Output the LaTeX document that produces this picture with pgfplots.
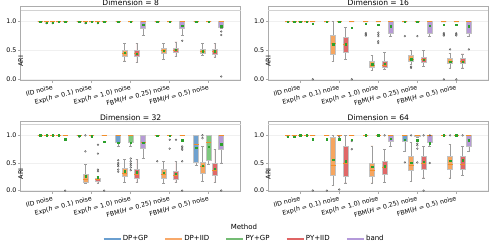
\documentclass[border=0pt]{standalone}
\usepackage{fontspec}
\setmainfont{DejaVu Sans}
\usepackage{pgfplots}
\pgfplotsset{compat=1.18}
\usepgfplotslibrary{statistics}
\definecolor{cB}{HTML}{6FA1CF}
\definecolor{cO}{HTML}{F6A660}
\definecolor{cG}{HTML}{7EC87E}
\definecolor{cR}{HTML}{E06868}
\definecolor{cP}{HTML}{B69AD6}
\definecolor{lB}{HTML}{6A9FD0}
\definecolor{lO}{HTML}{F8A96A}
\definecolor{lG}{HTML}{74BC74}
\definecolor{lR}{HTML}{E06464}
\definecolor{lP}{HTML}{B49ADA}
\definecolor{boxedge}{HTML}{C2C2C2}
\definecolor{whisk}{HTML}{9C9C9C}
\definecolor{medc}{HTML}{F28E2B}
\definecolor{meanc}{HTML}{2CA02C}
\pgfplotsset{
  bxs/.style={forget plot, draw=boxedge, line width=0.7pt, mark=none,
    boxplot/draw direction=y,
    boxplot/box extend=0.13, boxplot/whisker extend=0.07,
    boxplot/every median/.style={draw=medc, line width=0.8pt},
    boxplot/every whisker/.style={draw=whisk, line width=0.6pt}},
  meanst/.style={forget plot, only marks, mark=square*, mark size=0.7pt, color=meanc},
  outst/.style={forget plot, only marks, mark=o, mark size=0.9pt, draw=black!70, line width=0.35pt},
  myax/.style={scale only axis, width=220pt, anchor=south west,
    xmin=-0.82, xmax=4.82, ymin=-0.02, ymax=1.26,
    xtick={0,1,2,3,4},
    xticklabels={{IID noise},{Exp(\textit{h} = 0.1) noise},{Exp(\textit{h} = 1.0) noise},{FBM(\textit{H} = 0.25) noise},{FBM(\textit{H} = 0.5) noise}},
    xticklabel style={rotate=15, anchor=north east, font=\fontsize{6.3}{7}\selectfont, inner sep=1pt},
    ytick={0,0.5,1},
    /pgf/number format/assume math mode=true,
    yticklabel={\pgfmathprintnumber[fixed,fixed zerofill,precision=1]{\tick}},
    yticklabel style={font=\fontsize{6.3}{7}\selectfont, inner sep=1.5pt},
    ymajorgrids, grid style={gray!12, line width=0.4pt},
    axis line style={gray!65, line width=0.6pt},
    tick style={gray!65, line width=0.5pt}, tick align=outside, major tick length=2.5pt,
    xtick pos=lower, ytick pos=left,
    ylabel={ARI},
    ylabel style={at={(axis description cs:0,0.5)}, anchor=center, xshift=-17.5pt, font=\fontsize{6.5}{7}\selectfont},
    clip=false,
  }
}
\newcommand{\bx}[7]{\addplot[bxs, fill=#2, boxplot prepared={draw position=#1, lower whisker=#3, lower quartile=#4, median=#5, upper quartile=#6, upper whisker=#7}] coordinates {};}
\newcommand{\one}[2]{\bx{#1}{#2}{1}{1}{1}{1}{1}}
\newcommand{\topline}{\addplot[forget plot, gray!35, line width=0.5pt] coordinates {(-0.82,1.2) (4.82,1.2)};}
\newcommand{\ttl}[1]{\node[anchor=base, inner sep=0pt, font=\fontsize{7.6}{9}\selectfont] at ([yshift=1pt]rel axis cs:0.5,1) {#1};}
\begin{document}
\begin{tikzpicture}
\useasboundingbox (0,0) rectangle (489pt,247pt);
% ---------------- Dimension = 8
\begin{axis}[myax, at={(20.7pt,166.5pt)}, height=73.8pt]
\topline
\one{-0.32}{cB}\one{-0.16}{cO}\one{0}{cG}\one{0.16}{cR}\one{0.32}{cP}
\one{0.68}{cB}\one{0.84}{cO}\one{1}{cG}\one{1.16}{cR}\one{1.32}{cP}
\one{1.68}{cB}\bx{1.84}{cO}{0.32}{0.40}{0.45}{0.50}{0.62}\one{2}{cG}\bx{2.16}{cR}{0.29}{0.40}{0.45}{0.50}{0.62}\bx{2.32}{cP}{0.76}{0.88}{1}{1}{1}
\one{2.68}{cB}\bx{2.84}{cO}{0.34}{0.45}{0.50}{0.54}{0.62}\one{3}{cG}\bx{3.16}{cR}{0.40}{0.46}{0.51}{0.54}{0.65}\bx{3.32}{cP}{0.76}{0.88}{1}{1}{1}
\one{3.68}{cB}\bx{3.84}{cO}{0.42}{0.45}{0.49}{0.52}{0.62}\one{4}{cG}\bx{4.16}{cR}{0.39}{0.43}{0.49}{0.52}{0.62}\bx{4.32}{cP}{0.88}{0.91}{1}{1}{1}
\addplot[outst] coordinates {(-0.16,0.975)(0,0.975)(0.84,0.975)(1.16,0.975)(3.32,0.67)(4.32,0.83)(4.32,0.77)(4.32,0.05)};
\addplot[meanst] coordinates {(-0.32,1)(-0.16,0.985)(0,0.985)(0.16,1)(0.32,1)(0.68,1)(0.84,0.985)(1,1)(1.16,0.985)(1.32,1)(1.68,1)(1.84,0.46)(2,1)(2.16,0.45)(2.32,0.95)(2.68,1)(2.84,0.50)(3,1)(3.16,0.51)(3.32,0.93)(3.68,1)(3.84,0.49)(4,1)(4.16,0.49)(4.32,0.92)};
\ttl{Dimension = 8}
\end{axis}
% ---------------- Dimension = 16
\begin{axis}[myax, at={(268.3pt,166.5pt)}, height=73.8pt]
\topline
\one{-0.32}{cB}\one{-0.16}{cO}\one{0}{cG}\one{0.16}{cR}\one{0.32}{cP}
\one{0.68}{cB}\bx{0.84}{cO}{0.31}{0.44}{0.62}{0.77}{1}\one{1}{cG}\bx{1.16}{cR}{0.34}{0.47}{0.60}{0.73}{0.90}\one{1.32}{cP}
\one{1.68}{cB}\bx{1.84}{cO}{0.16}{0.20}{0.25}{0.32}{0.41}\one{2}{cG}\bx{2.16}{cR}{0.17}{0.20}{0.25}{0.32}{0.47}\bx{2.32}{cP}{0.74}{0.80}{1}{1}{1}
\one{2.68}{cB}\bx{2.84}{cO}{0.26}{0.32}{0.35}{0.41}{0.50}\one{3}{cG}\bx{3.16}{cR}{0.23}{0.30}{0.34}{0.39}{0.50}\bx{3.32}{cP}{0.74}{0.80}{1}{1}{1}
\one{3.68}{cB}\bx{3.84}{cO}{0.20}{0.27}{0.31}{0.37}{0.45}\one{4}{cG}\bx{4.16}{cR}{0.20}{0.27}{0.31}{0.37}{0.44}\bx{4.32}{cP}{0.75}{0.80}{1}{1}{1}
\addplot[outst] coordinates {(0.32,0)(1.32,0)(1.68,0.80)(1.68,0.78)(1.68,0.76)(2,0.81)(2,0.78)(2,0.75)(2,0.66)(2,0.63)(2.68,0.75)(2.84,0.22)(2.84,0.20)(3,0.75)(3.68,0.80)(3.68,0.78)(3.68,0.76)(3.68,0)(3.84,0.52)(4,0.80)(4,0.78)(4,0.76)(4,0)(4.32,0.52)};
\addplot[meanst] coordinates {(-0.32,1)(-0.16,1)(0,1)(0.16,1)(0.32,0.97)(0.68,1)(0.84,0.61)(1,1)(1.16,0.61)(1.32,0.90)(1.68,0.97)(1.84,0.26)(2,0.95)(2.16,0.27)(2.32,0.92)(2.68,1)(2.84,0.35)(3,1)(3.16,0.34)(3.32,0.93)(3.68,0.95)(3.84,0.31)(4,0.95)(4.16,0.31)(4.32,0.92)};
\ttl{Dimension = 16}
\end{axis}
% ---------------- Dimension = 32
\begin{axis}[myax, at={(20.7pt,55.3pt)}, height=70.7pt]
\topline
\one{-0.32}{cB}\one{-0.16}{cO}\one{0}{cG}\one{0.16}{cR}\one{0.32}{cP}
\one{0.68}{cB}\bx{0.84}{cO}{0.13}{0.15}{0.20}{0.29}{0.47}\one{1}{cG}\bx{1.16}{cR}{0.14}{0.17}{0.20}{0.23}{0.26}\one{1.32}{cP}
\bx{1.68}{cB}{0.80}{0.87}{1}{1}{1}\bx{1.84}{cO}{0.15}{0.25}{0.32}{0.41}{0.57}\bx{2}{cG}{0.80}{0.87}{1}{1}{1}\bx{2.16}{cR}{0.15}{0.23}{0.29}{0.38}{0.56}\bx{2.32}{cP}{0.58}{0.77}{0.88}{1}{1}
\one{2.68}{cB}\bx{2.84}{cO}{0.13}{0.23}{0.30}{0.39}{0.53}\one{3}{cG}\bx{3.16}{cR}{0.15}{0.20}{0.28}{0.35}{0.53}\one{3.32}{cP}
\bx{3.68}{cB}{0.45}{0.52}{0.84}{1}{1}\bx{3.84}{cO}{0.16}{0.31}{0.43}{0.52}{0.80}\bx{4}{cG}{0.47}{0.55}{0.87}{1}{1}\bx{4.16}{cR}{0.15}{0.28}{0.37}{0.49}{0.75}\bx{4.32}{cP}{0.50}{0.75}{1}{1}{1}
\addplot[outst] coordinates {(0.32,0)(0.68,0.975)(0.84,1)(0.84,0.71)(1,0.975)(1.16,0.83)(1.16,0.67)(1.16,0.38)(1.16,0.35)(1.32,0)(1.68,0.55)(1.68,0.50)(1.68,0.47)(1.68,0.44)(1.68,0.38)(1.68,0.34)(2,0.58)(2,0.53)(2,0.49)(2,0.46)(2,0.42)(2,0.37)(2.68,0.53)(3,0.92)(3,0.76)(3.16,0.92)(3.32,0.80)(3.32,0.77)(3.32,0.74)(3.32,0.53)(3.32,0)(3.84,1)(3.84,0.95)(4.32,0)};
\addplot[meanst] coordinates {(-0.32,1)(-0.16,1)(0,1)(0.16,1)(0.32,0.93)(0.68,0.99)(0.84,0.26)(1,0.985)(1.16,0.24)(1.32,0.88)(1.68,0.87)(1.84,0.35)(2,0.87)(2.16,0.33)(2.32,0.87)(2.68,0.99)(2.84,0.32)(3,0.99)(3.16,0.31)(3.32,0.91)(3.68,0.78)(3.84,0.45)(4,0.79)(4.16,0.40)(4.32,0.84)};
\ttl{Dimension = 32}
\end{axis}
% ---------------- Dimension = 64
\begin{axis}[myax, at={(268.3pt,55.3pt)}, height=70.7pt]
\topline
\one{-0.32}{cB}\one{-0.16}{cO}\one{0}{cG}\one{0.16}{cR}\one{0.32}{cP}
\one{0.68}{cB}\bx{0.84}{cO}{0.10}{0.28}{0.45}{0.96}{1}\one{1}{cG}\bx{1.16}{cR}{0.14}{0.26}{0.50}{0.80}{1}\one{1.32}{cP}
\one{1.68}{cB}\bx{1.84}{cO}{0.14}{0.26}{0.37}{0.50}{0.81}\one{2}{cG}\bx{2.16}{cR}{0.15}{0.29}{0.42}{0.53}{0.75}\bx{2.32}{cP}{0.80}{0.90}{1}{1}{1}
\bx{2.68}{cB}{0.71}{0.90}{1}{1}{1}\bx{2.84}{cO}{0.17}{0.36}{0.45}{0.62}{0.87}\bx{3}{cG}{0.97}{0.98}{1}{1}{1}\bx{3.16}{cR}{0.23}{0.39}{0.50}{0.62}{0.80}\bx{3.32}{cP}{0.80}{0.87}{1}{1}{1}
\one{3.68}{cB}\bx{3.84}{cO}{0.23}{0.39}{0.48}{0.62}{0.83}\one{4}{cG}\bx{4.16}{cR}{0.27}{0.39}{0.48}{0.62}{0.80}\bx{4.32}{cP}{0.71}{0.80}{1}{1}{1}
\addplot[outst] coordinates {(-0.32,0.975)(-0.16,0.975)(0.32,0)(0.68,0)(1,0.02)(1,0.975)(1.32,0.75)(1.32,0.90)(2.16,1)(2.68,0.51)(2.84,1)(3,0.85)(3,0.82)(3,0.76)(3,0.51)(3.16,1)(3.16,0)(3.32,0.5)(3.32,1)(3.84,1)(4.16,1)};
\addplot[meanst] coordinates {(-0.32,0.98)(-0.16,0.98)(0,1)(0.16,1)(0.32,0.93)(0.68,0.93)(0.84,0.56)(1,0.93)(1.16,0.53)(1.32,0.92)(1.68,1)(1.84,0.43)(2,1)(2.16,0.44)(2.32,0.94)(2.68,0.92)(2.84,0.51)(3,0.91)(3.16,0.52)(3.32,0.86)(3.68,1)(3.84,0.54)(4,1)(4.16,0.55)(4.32,0.91)};
\ttl{Dimension = 64}
\end{axis}
% ---------------- Legend
\begin{axis}[at={(0pt,0pt)}, anchor=south west, scale only axis, width=489pt, height=247pt,
  xmin=0, xmax=489, ymin=0, ymax=247, hide axis,
  legend columns=5,
  legend image code/.code={\draw[#1, line width=1.4pt] (0pt,0pt) -- (17pt,0pt);},
  legend style={at={(0.499,0.0324)}, anchor=center, draw=none, fill=none,
    font=\fontsize{7}{8}\selectfont, inner sep=0pt,
    /tikz/every even column/.append style={column sep=15pt},
    nodes={inner sep=1.5pt}}]
\addlegendimage{draw=lB}\addlegendentry{DP+GP}
\addlegendimage{draw=lO}\addlegendentry{DP+IID}
\addlegendimage{draw=lG}\addlegendentry{PY+GP}
\addlegendimage{draw=lR}\addlegendentry{PY+IID}
\addlegendimage{draw=lP}\addlegendentry{band}
\node[font=\fontsize{7}{8}\selectfont] at (axis cs:244,19.7) {Method};
\end{axis}
\end{tikzpicture}
\end{document}
